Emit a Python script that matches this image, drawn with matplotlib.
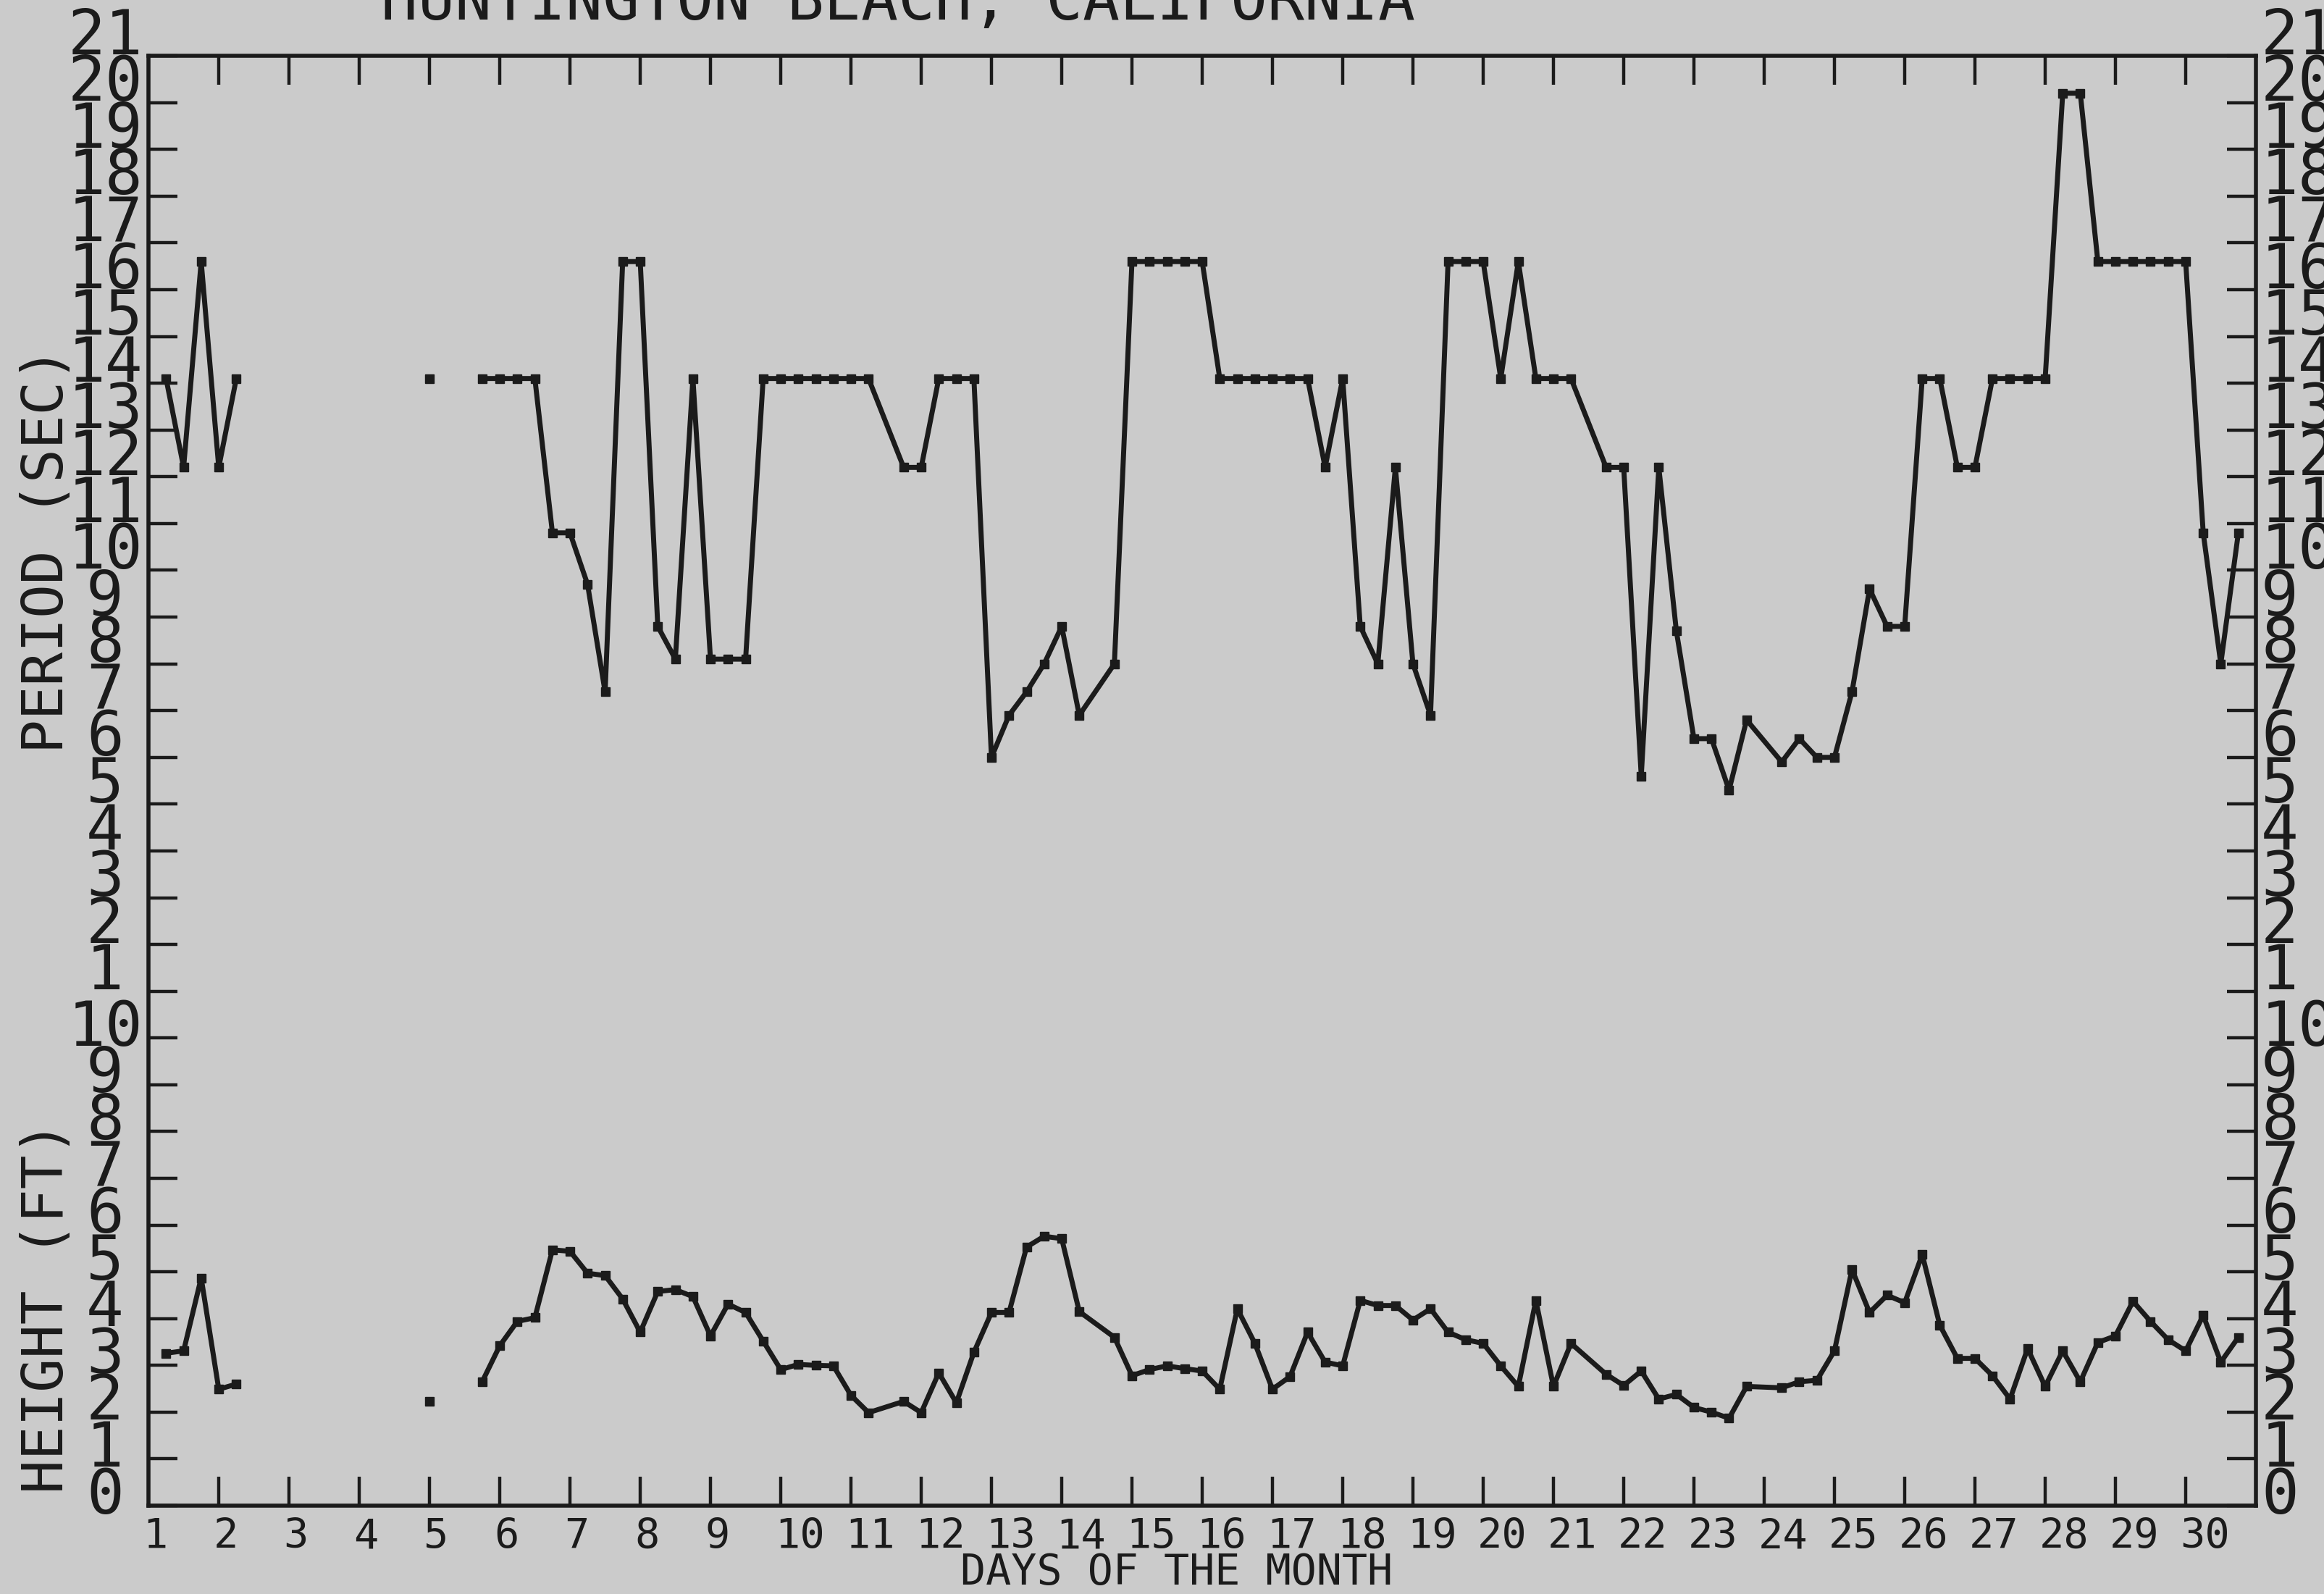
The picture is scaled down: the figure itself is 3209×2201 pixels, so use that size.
import numpy as np
import matplotlib
matplotlib.use("Agg")
import matplotlib.pyplot as plt
from matplotlib.transforms import blended_transform_factory

period_day = [1.25, 1.5, 1.75, 2.0, 2.25,
              5.0,
              5.75, 6.0, 6.25, 6.5, 6.75, 7.0, 7.25, 7.5, 7.75, 8.0, 8.25, 8.5, 8.75,
              9.0, 9.25, 9.5, 9.75, 10.0, 10.25, 10.5, 10.75, 11.0, 11.25, 11.75,
              12.0, 12.25, 12.5, 12.75, 13.0, 13.25, 13.5, 13.75, 14.0, 14.25, 14.75,
              15.0, 15.25, 15.5, 15.75, 16.0, 16.25, 16.5, 16.75, 17.0, 17.25, 17.5,
              17.75, 18.0, 18.25, 18.5, 18.75, 19.0, 19.25, 19.5, 19.75, 20.0, 20.25,
              20.5, 20.75, 21.0, 21.25, 21.75, 22.0, 22.25, 22.5, 22.75, 23.0, 23.25,
              23.5, 23.75, 24.25, 24.5, 24.75, 25.0, 25.25, 25.5, 25.75, 26.0, 26.25,
              26.5, 26.75, 27.0, 27.25, 27.5, 27.75, 28.0, 28.25, 28.5, 28.75, 29.0,
              29.25, 29.5, 29.75, 30.0, 30.25, 30.5, 30.75]
period_sec = [14.1, 12.2, 16.6, 12.2, 14.1,
              14.1,
              14.1, 14.1, 14.1, 14.1, 10.8, 10.8, 9.7, 7.4, 16.6, 16.6, 8.8, 8.1, 14.1,
              8.1, 8.1, 8.1, 14.1, 14.1, 14.1, 14.1, 14.1, 14.1, 14.1, 12.2,
              12.2, 14.1, 14.1, 14.1, 6.0, 6.9, 7.4, 8.0, 8.8, 6.9, 8.0,
              16.6, 16.6, 16.6, 16.6, 16.6, 14.1, 14.1, 14.1, 14.1, 14.1, 14.1,
              12.2, 14.1, 8.8, 8.0, 12.2, 8.0, 6.9, 16.6, 16.6, 16.6, 14.1,
              16.6, 14.1, 14.1, 14.1, 12.2, 12.2, 5.6, 12.2, 8.7, 6.4, 6.4,
              5.3, 6.8, 5.9, 6.4, 6.0, 6.0, 7.4, 9.6, 8.8, 8.8, 14.1,
              14.1, 12.2, 12.2, 14.1, 14.1, 14.1, 14.1, 20.2, 20.2, 16.6, 16.6,
              16.6, 16.6, 16.6, 16.6, 10.8, 8.0, 10.8]

height_day = [1.25, 1.5, 1.75, 2.0, 2.25,
              5.0,
              5.75, 6.0, 6.25, 6.5, 6.75, 7.0, 7.25, 7.5, 7.75, 8.0, 8.25, 8.5, 8.75,
              9.0, 9.25, 9.5, 9.75, 10.0, 10.25, 10.5, 10.75, 11.0, 11.25, 11.75,
              12.0, 12.25, 12.5, 12.75, 13.0, 13.25, 13.5, 13.75, 14.0, 14.25, 14.75,
              15.0, 15.25, 15.5, 15.75, 16.0, 16.25, 16.5, 16.75, 17.0, 17.25, 17.5,
              17.75, 18.0, 18.25, 18.5, 18.75, 19.0, 19.25, 19.5, 19.75, 20.0, 20.25,
              20.5, 20.75, 21.0, 21.25, 21.75, 22.0, 22.25, 22.5, 22.75, 23.0, 23.25,
              23.5, 23.75, 24.25, 24.5, 24.75, 25.0, 25.25, 25.5, 25.75, 26.0, 26.25,
              26.5, 26.75, 27.0, 27.25, 27.5, 27.75, 28.0, 28.25, 28.5, 28.75, 29.0,
              29.25, 29.5, 29.75, 30.0, 30.25, 30.5, 30.75]
height_ft = [3.26, 3.31, 4.87, 2.49, 2.6,
             2.23,
             2.65, 3.42, 3.94, 4.02, 5.47, 5.44, 4.97, 4.92, 4.42, 3.71, 4.58, 4.62, 4.47,
             3.63, 4.31, 4.13, 3.52, 2.91, 3.02, 3.0, 2.99, 2.36, 1.99, 2.23,
             1.99, 2.84, 2.2, 3.28, 4.13, 4.13, 5.53, 5.76, 5.71, 4.15, 3.6,
             2.78, 2.91, 2.99, 2.93, 2.88, 2.49, 4.21, 3.47, 2.49, 2.76, 3.71,
             3.07, 2.99, 4.39, 4.28, 4.28, 3.97, 4.21, 3.71, 3.55, 3.47, 2.99,
             2.55, 4.39, 2.55, 3.47, 2.81, 2.57, 2.88, 2.28, 2.38, 2.1, 2.0,
             1.87, 2.55, 2.52, 2.65, 2.68, 3.31, 5.05, 4.13, 4.5, 4.34, 5.37,
             3.86, 3.15, 3.15, 2.78, 2.28, 3.36, 2.55, 3.31, 2.65, 3.49, 3.63,
             4.37, 3.94, 3.55, 3.31, 4.07, 3.07, 3.6]

day_labels = [str(d) for d in range(1, 31)]
height_labels = [str(h) for h in range(0, 11)]
period_labels = [str(p) for p in range(1, 22)]

PERIOD_BASE = 10   # period 0 sits on the 10 ft line


def with_breaks(days, vals, gap=0.6):
    # the plotter lifts the pen where more than one sample is missing
    xs, ys = [], []
    for i, (d, v) in enumerate(zip(days, vals)):
        if i and d - days[i - 1] > gap:
            xs.append(np.nan)
            ys.append(np.nan)
        xs.append(d)
        ys.append(v)
    return np.array(xs), np.array(ys)


bg = "#cbcbcb"
ink = "#1b1b1b"
plt.rcParams["font.family"] = ["DejaVu Sans Mono", "DejaVu Sans"]

fig = plt.figure(figsize=(32.09, 22.01), dpi=100, facecolor=bg)
ax = fig.add_axes([0.0639, 0.0554, 0.9068, 0.9096], facecolor=bg)
ax.set_xlim(1, 31)
ax.set_ylim(0, 31)

px, py = with_breaks(period_day, period_sec)
ax.plot(px, py + PERIOD_BASE, color=ink, lw=5, marker="s", ms=8,
        solid_joinstyle="round", solid_capstyle="round", zorder=3)
hx, hy = with_breaks(height_day, height_ft)
ax.plot(hx, hy, color=ink, lw=5, marker="s", ms=8,
        solid_joinstyle="round", solid_capstyle="round", zorder=3)

for s in ax.spines.values():
    s.set_linewidth(4)
    s.set_color(ink)

ax.set_xticks(range(2, 31))
ax.set_yticks(range(0, 32))
ax.tick_params(axis="both", direction="in", length=29, width=3.2, color=ink,
               top=True, bottom=True, left=True, right=True,
               labelbottom=False, labelleft=False)

# day numbers start at their tick, as the plotter wrote them
tx = blended_transform_factory(ax.transData, fig.transFigure)
for d, lab in zip(range(1, 31), day_labels):
    ax.text(d - 0.08, 0.0286, lab, transform=tx, ha="left", va="baseline",
            fontsize=41, color=ink)
fig.text(0.5064, 0.006, "DAYS OF THE MONTH", ha="center", va="baseline",
         fontsize=42, color=ink)

# stacked left/right scales: height 0-10 ft, period 1-21 s above it
ty = blended_transform_factory(fig.transFigure, ax.transData)
for h, lab in enumerate(height_labels):
    ax.text(0.0452, h + 0.2, lab, transform=ty, ha="center", va="center",
            fontsize=62, color=ink)
    ax.text(0.9729, h + 0.2, lab, transform=ty, ha="left", va="center",
            fontsize=62, color=ink)
for p, lab in zip(range(1, 22), period_labels):
    ax.text(0.0452, PERIOD_BASE + p + 0.4, lab, transform=ty, ha="center",
            va="center", fontsize=62, color=ink)
    ax.text(0.9729, PERIOD_BASE + p + 0.4, lab, transform=ty, ha="left",
            va="center", fontsize=62, color=ink)

fig.text(0.0203, 0.655, "PERIOD (SEC)", rotation=90, ha="center", va="center",
         fontsize=56, color=ink)
fig.text(0.0203, 0.1799, "HEIGHT (FT)", rotation=90, ha="center", va="center",
         fontsize=56, color=ink)

fig.text(0.3864, 0.9877, "HUNTINGTON BEACH, CALIFORNIA", ha="center",
         va="baseline", fontsize=61, color=ink)

fig.savefig("out.png", dpi=100, facecolor=bg)
